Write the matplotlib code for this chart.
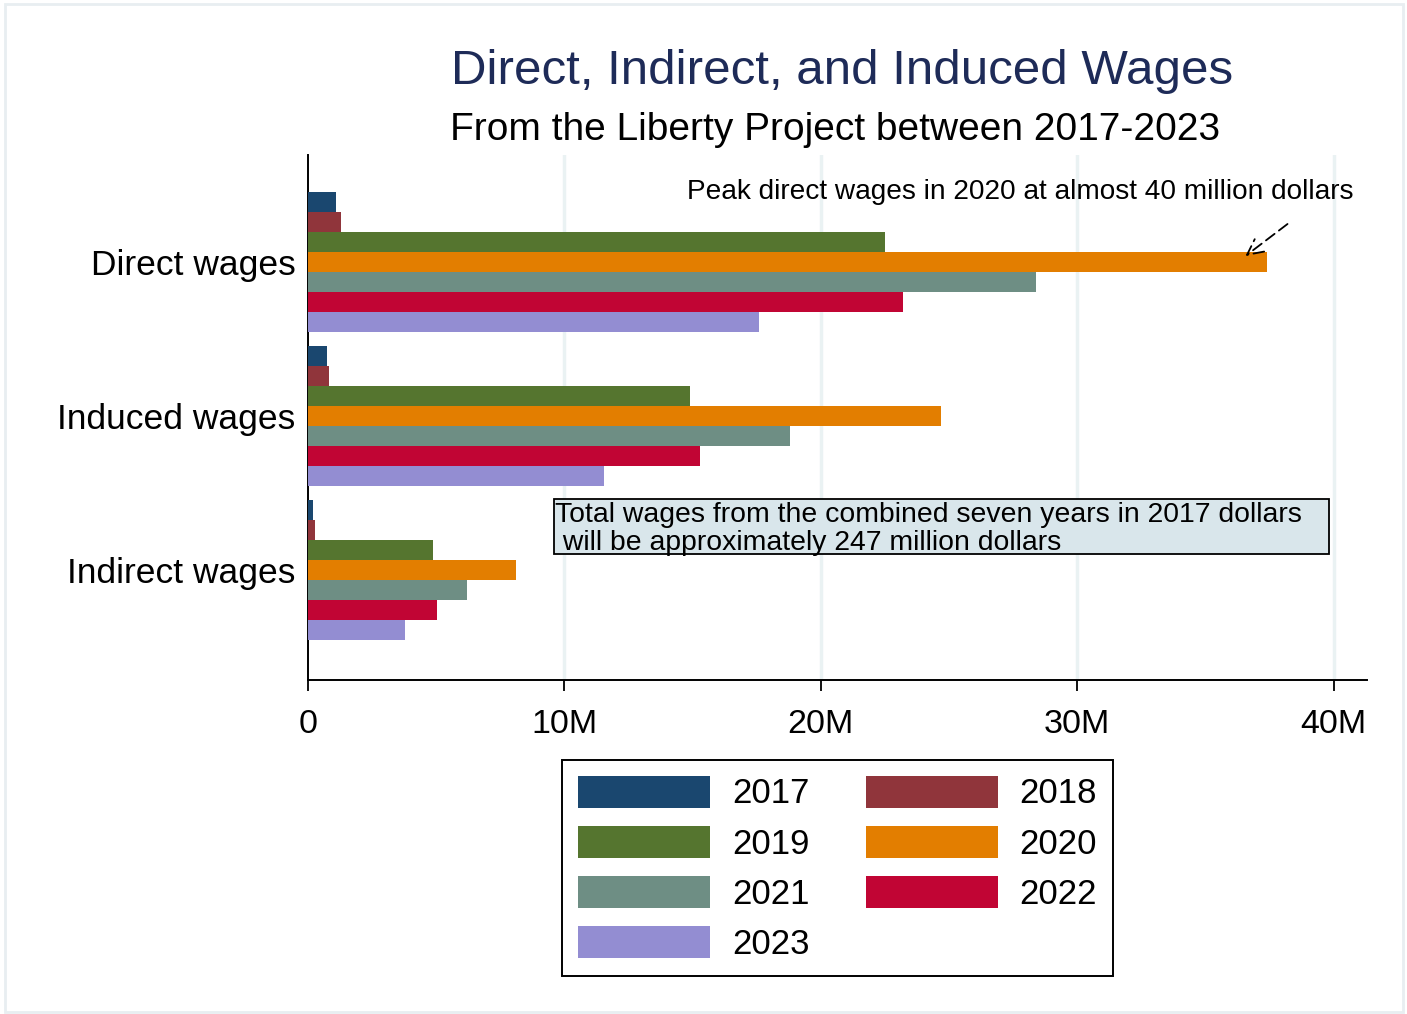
import matplotlib
matplotlib.use("Agg")
import matplotlib.pyplot as plt
from matplotlib import font_manager
from matplotlib.patches import Rectangle, Patch
import numpy as np

categories = ["Direct wages", "Induced wages", "Indirect wages"]
years = ["2017", "2018", "2019", "2020", "2021", "2022", "2023"]
# values in millions of dollars, per year, for [Direct, Induced, Indirect]
w2017 = [1.09, 0.73, 0.21]
w2018 = [1.29, 0.83, 0.27]
w2019 = [22.5, 14.9, 4.88]
w2020 = [37.4, 24.7, 8.12]
w2021 = [28.4, 18.8, 6.19]
w2022 = [23.2, 15.3, 5.03]
w2023 = [17.6, 11.55, 3.78]
series = [w2017, w2018, w2019, w2020, w2021, w2022, w2023]
colors = ["#1a476f", "#90353b", "#55752f", "#e37e00", "#6e8e84", "#c10534", "#938dd2"]
xticks = [0, 10, 20, 30, 40]
xticklabels = ["0", "10M", "20M", "30M", "40M"]

FONT = "Liberation Sans"
try:
    font_manager.findfont("Liberation Sans Narrow", fallback_to_default=False)
    NARROW = True
except Exception:
    NARROW = False

plt.rcParams["font.family"] = [FONT, "DejaVu Sans"]

fig = plt.figure(figsize=(14.07, 10.14), dpi=100)
W, H = 1407, 1014
ax = fig.add_axes([308 / W, 1 - 680 / H, (1367 - 308) / W, (680 - 155) / H])

h = 0.13
ypos = np.arange(len(categories))
for j, (vals, c) in enumerate(zip(series, colors)):
    ax.barh(ypos + (j - 3) * h, vals, height=h, color=c, edgecolor="none", zorder=3, label=years[j])

ax.set_ylim(2.714, -0.695)
ax.set_xlim(0, 41.3)
ax.set_yticks(ypos)
ax.set_yticklabels(categories, fontsize=25.5)
ax.tick_params(axis="y", length=0, pad=9)
ax.set_xticks(xticks)
ax.set_xticklabels(xticklabels, fontsize=24.5)
ax.tick_params(axis="x", length=8, width=1.3, pad=13)
for s in ["top", "right"]:
    ax.spines[s].set_visible(False)
for s in ["left", "bottom"]:
    ax.spines[s].set_linewidth(1.4)
for xv in xticks[1:]:
    ax.axvline(xv, color="#eaf2f3", lw=2.5, zorder=1)

# Annotation
ax.text(14.79, -0.455, "Peak direct wages in 2020 at almost 40 million dollars",
        fontsize=20.2, ha="left", va="center", zorder=5)
ax.annotate("", xy=(36.56, -0.039), xytext=(38.2, -0.247),
            arrowprops=dict(arrowstyle="->", lw=1.3, color="black", linestyle=(0, (6, 3)),
                            mutation_scale=28, shrinkA=0, shrinkB=0), zorder=5)

# Text box
ax.add_patch(Rectangle((9.6, 1.539), 30.2, 0.357, facecolor="#d9e6eb", edgecolor="black",
                       lw=1.3, zorder=4))
box_text = "Total wages from the combined seven years in 2017 dollars\n will be approximately 247 million dollars"
if NARROW:
    ax.text(9.63, 1.735, box_text, fontsize=24.8, family=["Liberation Sans Narrow", FONT],
            ha="left", va="center", linespacing=1.12, zorder=5)
else:
    ax.text(9.63, 1.735, box_text, fontsize=20.4, ha="left", va="center",
            linespacing=1.12, zorder=5)

# Titles
fig.text(842 / W, 1 - 71 / H, "Direct, Indirect, and Induced Wages", fontsize=35.5,
         color="#1e2b58", ha="center", va="center")
fig.text(835 / W, 1 - 130 / H, "From the Liberty Project between 2017-2023", fontsize=28,
         color="black", ha="center", va="center")

# Legend (row-wise order)
order = [0, 2, 4, 6, 1, 3, 5]
handles = [Patch(facecolor=colors[i], edgecolor="none") for i in order]
labels = [years[i] for i in order]
leg = fig.legend(handles, labels, loc="upper center", bbox_to_anchor=(837.5 / W, 1 - 760 / H),
                 ncol=2, fontsize=25, handlelength=3.8, handleheight=1.04,
                 labelspacing=0.44, handletextpad=0.63, columnspacing=1.62,
                 borderpad=0.45, fancybox=False, framealpha=1, edgecolor="black",
                 borderaxespad=0)
leg.get_frame().set_linewidth(1.4)

# Outer frame
fig.patches.append(Rectangle((5 / W, 2 / H), 1398 / W, 1008 / H, transform=fig.transFigure,
                             fill=False, edgecolor="#e8eef1", lw=2))

fig.savefig("out.png", dpi=100)
